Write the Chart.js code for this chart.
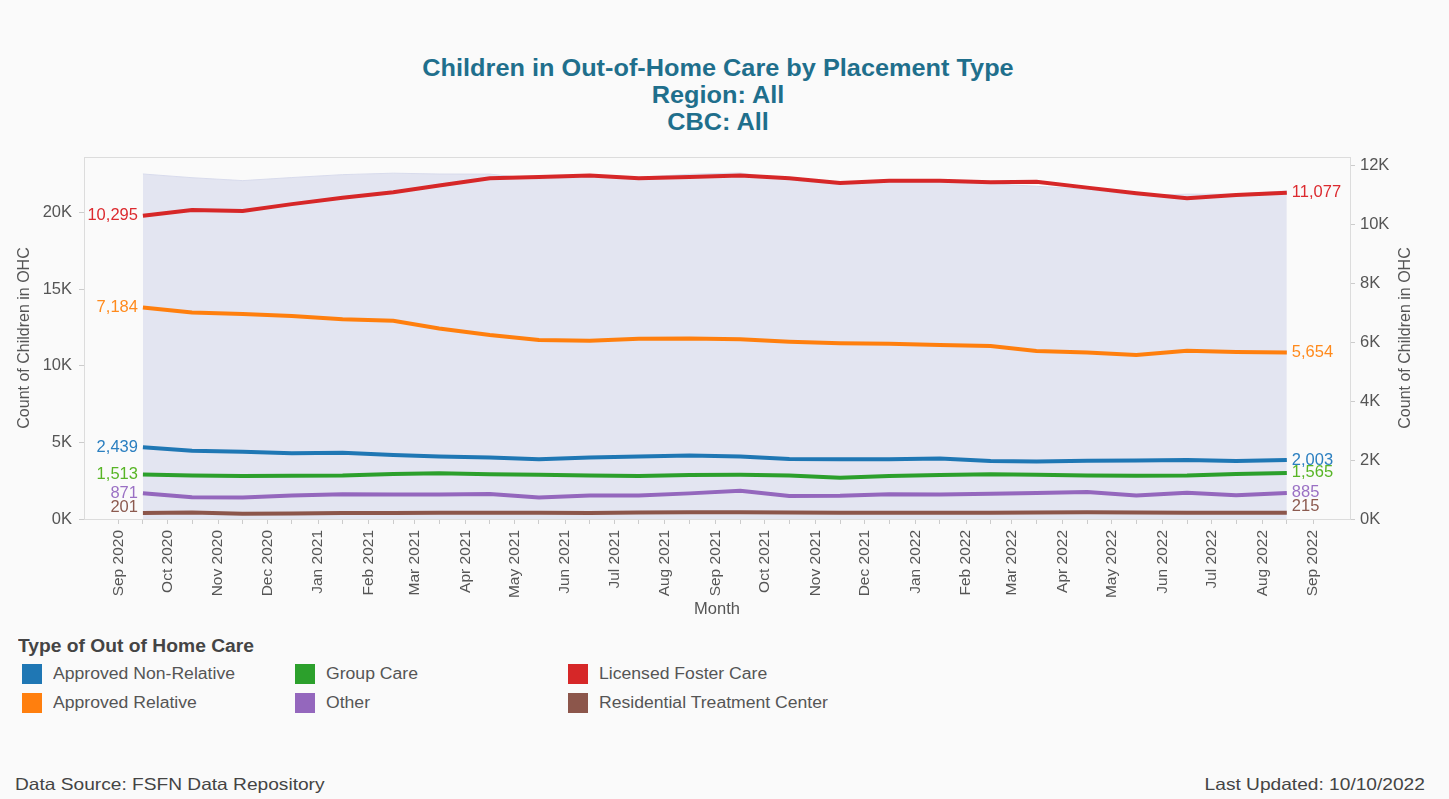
<!DOCTYPE html>
<html>
<head>
<meta charset="utf-8">
<script src="https://cdn.jsdelivr.net/npm/chart.js@4.4.0/dist/chart.umd.min.js"></script>
<style>
  body { margin: 0; background: #fafafa; font-family: "Liberation Sans", Arial, sans-serif; }
  #wrap { position: relative; width: 1449px; height: 799px; overflow: hidden; }
  #title { position: absolute; left: 0; top: 55px; width: 1436px; text-align: center;
           color: #1f6f8c; font-weight: bold; font-size: 23px; line-height: 27px;
           transform: scaleX(1.1); transform-origin: 718px 0; }
  #chartBox { position: absolute; left: 0; top: 140px; width: 1449px; height: 490px; }
  #legend { position: absolute; left: 18px; top: 636px; color: #555; }
  #legend .head { font-weight: bold; font-size: 17.5px; color: #444; white-space: nowrap;
                  transform: scaleX(1.1); transform-origin: 0 0; }
  .item { position: absolute; height: 22px; line-height: 22px; white-space: nowrap; }
  .item .sw { display: inline-block; width: 20px; height: 20px; vertical-align: middle; margin-right: 11px; }
  .item .tx { display: inline-block; font-size: 16px; vertical-align: middle;
              transform: scaleX(1.1); transform-origin: 0 50%; }
  .foot { position: absolute; top: 775px; font-size: 16.5px; color: #444; white-space: nowrap; }
</style>
</head>
<body>
<div id="wrap">
  <div id="title">Children in Out-of-Home Care by Placement Type<br>Region: All<br>CBC: All</div>
  <div id="chartBox"><canvas id="chart"></canvas></div>
  <div id="legend"><div class="head">Type of Out of Home Care</div></div>
  <div class="foot" style="left:15px;transform:scaleX(1.16);transform-origin:0 0">Data Source: FSFN Data Repository</div>
  <div class="foot" style="right:24px;transform:scaleX(1.16);transform-origin:100% 0">Last Updated: 10/10/2022</div>
</div>
<script>
const months = ['Sep 2020', 'Oct 2020', 'Nov 2020', 'Dec 2020', 'Jan 2021', 'Feb 2021', 'Mar 2021', 'Apr 2021',
  'May 2021', 'Jun 2021', 'Jul 2021', 'Aug 2021', 'Sep 2021', 'Oct 2021', 'Nov 2021', 'Dec 2021',
  'Jan 2022', 'Feb 2022', 'Mar 2022', 'Apr 2022', 'May 2022', 'Jun 2022', 'Jul 2022', 'Aug 2022'];
const tickMonths = [...months, 'Sep 2022'];

const licensedFoster = [10295, 10490, 10460, 10690, 10910, 11090, 11320, 11570, 11610, 11660, 11570, 11610,
  11660, 11570, 11410, 11480, 11480, 11430, 11450, 11250, 11060, 10890, 11000, 11077];
const approvedRelative = [7184, 7010, 6960, 6890, 6780, 6730, 6470, 6250, 6080, 6050, 6120, 6130,
  6100, 6020, 5970, 5950, 5910, 5870, 5700, 5650, 5570, 5710, 5670, 5654];
const approvedNonRelative = [2439, 2320, 2280, 2230, 2250, 2170, 2120, 2090, 2030, 2090, 2120, 2160,
  2120, 2040, 2030, 2030, 2050, 1970, 1950, 1980, 1990, 2000, 1970, 2003];
const groupCare = [1513, 1480, 1460, 1470, 1480, 1530, 1550, 1520, 1500, 1480, 1460, 1490,
  1500, 1480, 1400, 1460, 1490, 1520, 1500, 1480, 1470, 1480, 1530, 1565];
const other = [871, 740, 730, 800, 840, 830, 830, 850, 730, 800, 800, 870,
  960, 780, 790, 840, 830, 860, 880, 920, 800, 890, 810, 885];
const residential = [201, 220, 180, 190, 200, 205, 210, 215, 210, 205, 220, 225,
  230, 220, 215, 210, 210, 215, 220, 225, 220, 215, 210, 215];
// total children in OHC (left axis, shaded area)
const totals = [22503, 22260, 22070, 22270, 22460, 22555, 22500, 22495, 22160, 22285, 22290, 22485,
  22570, 22110, 21815, 21970, 21970, 21865, 21700, 21505, 21110, 21185, 21190, 21399];

const leftTicks = [0, 5000, 10000, 15000, 20000];
const rightTicks = [0, 2000, 4000, 6000, 8000, 10000, 12000];

const monthNames = ['Jan', 'Feb', 'Mar', 'Apr', 'May', 'Jun', 'Jul', 'Aug', 'Sep', 'Oct', 'Nov', 'Dec'];
function dayOf(label) {
  const [m, y] = label.split(' ');
  return (Date.UTC(+y, monthNames.indexOf(m), 1) - Date.UTC(2020, 8, 1)) / 864e5;
}
const tickDays = tickMonths.map(dayOf);
const pointDays = months.map(m => dayOf(m) + 15);

const series = [
  {label: 'Approved Non-Relative', data: approvedNonRelative, color: '#1f77b4', text: '#2b7fc0', shift: [0, 0]},
  {label: 'Approved Relative', data: approvedRelative, color: '#ff7f0e', text: '#ff8a1c', shift: [0, 0]},
  {label: 'Group Care', data: groupCare, color: '#2ca02c', text: '#58b526', shift: [0, 0]},
  {label: 'Licensed Foster Care', data: licensedFoster, color: '#d62728', text: '#dc2a2f', shift: [0, 0]},
  {label: 'Other', data: other, color: '#9467bd', text: '#9a70c4', shift: [0, 0]},
  {label: 'Residential Treatment Center', data: residential, color: '#8c564b', text: '#8c5a4f', shift: [-6, -6]},
];

const legendPos = [[4, 673], [4, 702], [277, 673], [277, 702], [550, 673], [550, 702]];
const legendOrder = [0, 1, 2, 4, 3, 5];
const legend = document.getElementById('legend');
legendOrder.forEach((si, k) => {
  const d = document.createElement('div');
  d.className = 'item';
  d.style.left = legendPos[k][0] + 'px';
  d.style.top = (legendPos[k][1] - 11 - 636) + 'px';
  d.innerHTML = `<span class="sw" style="background:${series[si].color}"></span><span class="tx">${series[si].label}</span>`;
  legend.appendChild(d);
});

const fmt = v => v.toLocaleString('en-US');
const FONT = '"Liberation Sans", Arial';

const frame = {
  id: 'frame',
  beforeDatasetsDraw(chart) {
    const {ctx, chartArea: a} = chart;
    ctx.save();
    ctx.strokeStyle = '#dcdcdc';
    ctx.lineWidth = 1;
    ctx.strokeRect(a.left + 0.5, a.top + 0.5, a.right - a.left, a.bottom - a.top);
    ctx.restore();
  },
  afterDraw(chart) {
    const {ctx, chartArea: a} = chart;
    ctx.save();
    ctx.font = '16px ' + FONT;
    ctx.fillStyle = '#555';
    ctx.textAlign = 'center';
    ctx.textBaseline = 'middle';
    ctx.translate(1406, (a.top + a.bottom) / 2);
    ctx.rotate(-Math.PI / 2);
    ctx.fillText('Count of Children in OHC', 0, 0);
    ctx.restore();
  }
};

const endLabels = {
  id: 'endLabels',
  afterDatasetsDraw(chart) {
    const ctx = chart.ctx;
    ctx.save();
    ctx.font = '16.5px ' + FONT;
    ctx.textBaseline = 'middle';
    chart.data.datasets.forEach((ds, di) => {
      if (!ds.labelColor) return;
      const pts = chart.getDatasetMeta(di).data;
      const first = pts[0], last = pts[pts.length - 1];
      ctx.fillStyle = ds.labelColor;
      ctx.textAlign = 'right';
      ctx.fillText(fmt(ds.data[0].y), first.x - 5, first.y + ds.labelShift[0]);
      ctx.textAlign = 'left';
      ctx.fillText(fmt(ds.data[ds.data.length - 1].y), last.x + 5, last.y + ds.labelShift[1]);
    });
    ctx.restore();
  }
};

const datasets = series.map((s, i) => ({
  type: 'line',
  label: s.label,
  data: s.data.map((v, j) => ({x: pointDays[j], y: v})),
  borderColor: s.color,
  backgroundColor: s.color,
  borderWidth: 4,
  pointRadius: 0,
  tension: 0,
  yAxisID: 'y1',
  order: 1,
  labelColor: s.text,
  labelShift: s.shift,
}));
datasets.push({
  type: 'line',
  label: 'Total',
  data: totals.map((v, j) => ({x: pointDays[j], y: v})),
  borderColor: '#d8dbec',
  borderWidth: 1,
  backgroundColor: '#e3e5f1',
  fill: 'origin',
  pointRadius: 0,
  tension: 0,
  yAxisID: 'y',
  order: 10,
});

const tickFont = {family: FONT, size: 16.5};
new Chart(document.getElementById('chart'), {
  type: 'line',
  data: {datasets},
  options: {
    responsive: true,
    maintainAspectRatio: false,
    animation: false,
    layout: {padding: {top: 17, left: 0, right: 0, bottom: 0}},
    plugins: {legend: {display: false}, tooltip: {enabled: false}},
    scales: {
      x: {
        type: 'linear',
        min: -21,
        max: dayOf('Sep 2022') + 22.6,
        afterBuildTicks(scale) {
          scale.ticks = [...tickDays, ...pointDays].sort((a, b) => a - b).map(v => ({value: v}));
        },
        afterFit(scale) { scale.height = 111; },
        ticks: {
          autoSkip: false, minRotation: 90, maxRotation: 90, padding: 6,
          color: '#555', font: {family: FONT, size: 15.5},
          callback(v) { const k = tickDays.indexOf(v); return k >= 0 ? tickMonths[k] : ''; },
        },
        grid: {drawOnChartArea: false, tickLength: 5, color: '#ccc'},
        border: {display: false},
        title: {display: true, text: 'Month', color: '#555', padding: {bottom: 11},
                font: {family: FONT, size: 16.5}},
      },
      y: {
        position: 'left',
        min: 0,
        max: 23610,
        afterBuildTicks(scale) { scale.ticks = leftTicks.map(v => ({value: v})); },
        afterFit(scale) { scale.width = 84; },
        ticks: {color: '#555', font: tickFont, padding: 7, callback: v => (v / 1000) + 'K'},
        grid: {drawOnChartArea: false, tickLength: 5, color: '#ccc'},
        border: {display: false},
        title: {display: true, text: 'Count of Children in OHC', color: '#555', padding: {top: 15},
                font: {family: FONT, size: 16}},
      },
      y1: {
        position: 'right',
        min: 0,
        max: 12290,
        afterBuildTicks(scale) { scale.ticks = rightTicks.map(v => ({value: v})); },
        afterFit(scale) { scale.width = 99; },
        ticks: {color: '#555', font: tickFont, padding: 5, callback: v => (v / 1000) + 'K'},
        grid: {drawOnChartArea: false, tickLength: 5, color: '#ccc'},
        border: {display: false},
      },
    },
  },
  plugins: [frame, endLabels],
});
</script>
</body>
</html>
